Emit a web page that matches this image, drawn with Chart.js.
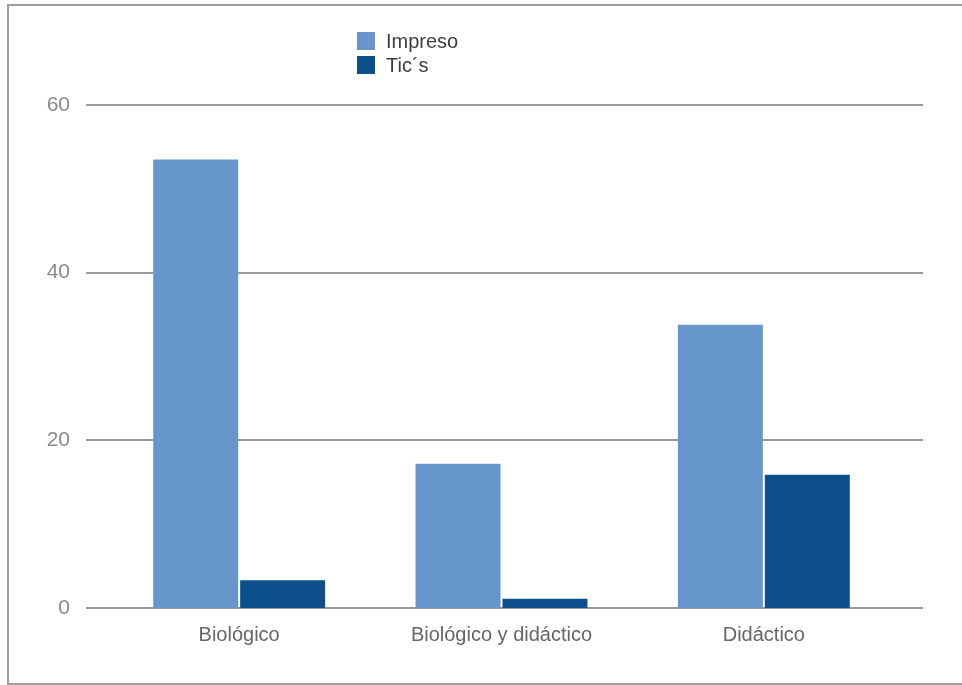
<!DOCTYPE html>
<html>
<head>
<meta charset="utf-8">
<script src="https://cdn.jsdelivr.net/npm/chart.js@4/dist/chart.umd.min.js"></script>
<style>
    body { margin: 0; background: #fff; }
    #wrap { position: relative; width: 962px; height: 685px; overflow: hidden; }
    #frame { position: absolute; left: 7px; top: 4px; width: 1000px; height: 677px; border: 2px solid #9e9e9e; }
    #chart { position: absolute; left: 0; top: 0; }
    #legend { position: absolute; left: 357px; top: 29px; font-family: 'Liberation Sans', sans-serif; font-size: 20px; color: #3d3d3d; }
    .item { display: flex; align-items: center; height: 24px; }
    .box { width: 18px; height: 18px; margin-right: 11px; }
</style>
</head>
<body>
<div id="wrap">
    <div id="frame"></div>
    <canvas id="chart" width="962" height="685"></canvas>
    <div id="legend"></div>
</div>
<script>
// Daten
const categories = ['Biológico', 'Biológico y didáctico', 'Didáctico'];
const impreso = [53.5, 17.2, 33.8];
const tics = [3.3, 1.1, 15.9];
const seriesNames = ['Impreso', 'Tic´s'];
const colors = ['#6796cd', '#0c4f8b'];
const yTicks = [0, 20, 40, 60];

const FONT = "'Liberation Sans', sans-serif";

// --- Legende (HTML) ---
const legend = document.getElementById('legend');
seriesNames.forEach((name, i) => {
    const row = document.createElement('div');
    row.className = 'item';
    row.innerHTML = `<span class="box" style="background:${colors[i]}"></span><span>${name}</span>`;
    legend.appendChild(row);
});

// Gitterlinien etwas breiter als die Zeichenfläche
const gridPlugin = {
    id: 'wideGrid',
    beforeDatasetsDraw(chart) {
        const { ctx, chartArea, scales } = chart;
        ctx.save();
        ctx.strokeStyle = '#999';
        ctx.lineWidth = 2;
        yTicks.forEach(v => {
            const y = Math.round(scales.y.getPixelForValue(v));
            ctx.beginPath();
            ctx.moveTo(chartArea.left - 22, y);
            ctx.lineTo(chartArea.right + 28, y);
            ctx.stroke();
        });
        ctx.restore();
    }
};

new Chart(document.getElementById('chart'), {
    type: 'bar',
    data: {
        labels: categories,
        datasets: [
            { label: seriesNames[0], data: impreso, backgroundColor: colors[0] },
            { label: seriesNames[1], data: tics, backgroundColor: colors[1] }
        ]
    },
    options: {
        responsive: false,
        animation: false,
        categoryPercentage: 0.663,
        barPercentage: 0.977,
        layout: { padding: { left: 46, right: 67, top: 105, bottom: 17 } },
        plugins: {
            legend: { display: false },
            tooltip: { enabled: false }
        },
        scales: {
            x: {
                grid: { display: false, drawTicks: false },
                border: { display: false },
                ticks: { color: '#666', font: { family: FONT, size: 20 }, padding: 15 },
                afterFit: s => { s.height = 60; }
            },
            y: {
                min: 0, max: 60,
                afterBuildTicks: s => { s.ticks = yTicks.map(v => ({ value: v })); },
                grid: { display: false, drawTicks: false },
                border: { display: false },
                ticks: { color: '#8a8a8a', font: { family: FONT, size: 21 }, padding: 38 },
                afterFit: s => { s.width = 62; }
            }
        }
    },
    plugins: [gridPlugin]
});
</script>
</body>
</html>
